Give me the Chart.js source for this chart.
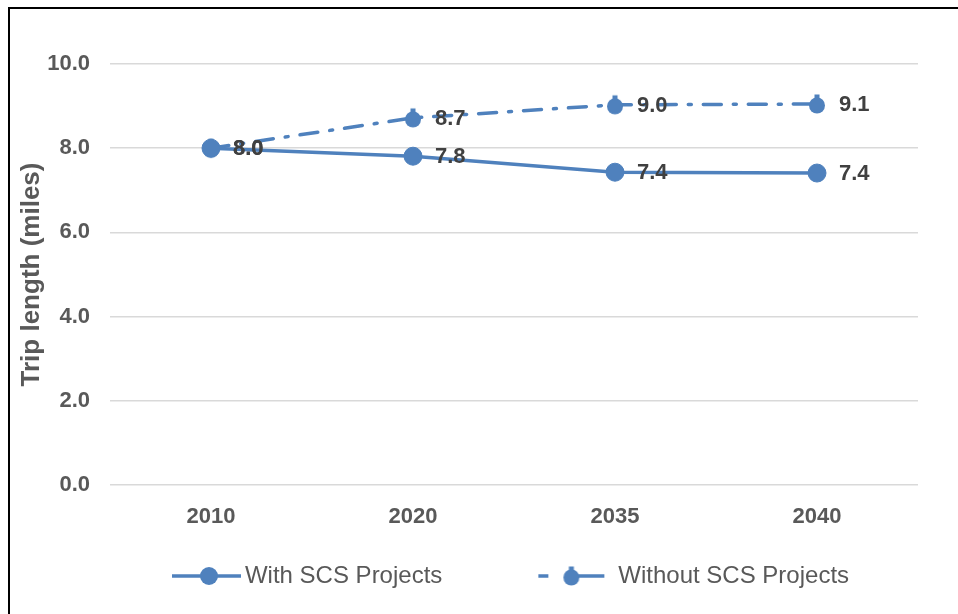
<!DOCTYPE html>
<html>
<head>
<meta charset="utf-8">
<script src="https://cdn.jsdelivr.net/npm/chart.js@4/dist/chart.umd.min.js"></script>
<style>
  html, body { margin: 0; padding: 0; background: #fff; overflow: hidden; }
  #wrap { position: relative; width: 958px; height: 614px; }
  #frame { position: absolute; left: 8px; top: 7px; right: -10px; bottom: -10px;
           border-left: 2px solid #000; border-top: 2px solid #000; pointer-events: none; }
</style>
</head>
<body>
<div id="wrap">
  <canvas id="chart" width="958" height="614"></canvas>
  <div id="frame"></div>
</div>
<script>
// chart data
const years = ['2010', '2020', '2035', '2040'];
const withScs = [8.0, 7.81, 7.43, 7.41];
const withoutScs = [8.0, 8.72, 9.03, 9.05];
const seriesNames = ['With SCS Projects', 'Without SCS Projects'];
const yTicks = [0, 2, 4, 6, 8, 10];

const blue = '#4F81BD';
const gray = '#595959';
const font = '"Liberation Sans", Arial, sans-serif';

// marker for the "without" series: dot with a small nub on top
const makeNubMarker = () => {
    const c = document.createElement('canvas');
    c.width = 18;
    c.height = 22;
    const g = c.getContext('2d');
    g.fillStyle = blue;
    g.beginPath(); g.arc(9, 12.5, 8, 0, Math.PI * 2); g.fill();
    g.fillRect(6.5, 1.5, 5, 5);
    return c;
};
const nubMarker = makeNubMarker();

// legend sample: blank space on the left, then line + marker
const makeLegendSample = (dashed) => {
    const c = document.createElement('canvas');
    c.width = 184;
    c.height = 24;
    const g = c.getContext('2d');
    g.strokeStyle = blue;
    g.fillStyle = blue;
    g.lineWidth = 3.5;
    if (dashed) {
        g.beginPath(); g.moveTo(106, 12); g.lineTo(116, 12); g.stroke();
        g.beginPath(); g.moveTo(146, 12); g.lineTo(172, 12); g.stroke();
        g.drawImage(nubMarker, 130, 1);
    } else {
        g.beginPath(); g.moveTo(113, 12); g.lineTo(182, 12); g.stroke();
        g.beginPath(); g.arc(150, 12, 9, 0, Math.PI * 2); g.fill();
    }
    return c;
};
const legendSamples = [makeLegendSample(false), makeLegendSample(true)];

const dataLabels = {
    id: 'dataLabels',
    afterDatasetsDraw(chart) {
        const ctx = chart.ctx;
        ctx.save();
        ctx.font = 'bold 22px ' + font;
        ctx.fillStyle = '#404040';
        ctx.textAlign = 'left';
        ctx.textBaseline = 'middle';
        chart.data.datasets.forEach((ds, i) => {
            chart.getDatasetMeta(i).data.forEach((pt, j) => {
                ctx.fillText(ds.data[j].toFixed(1), pt.x + 22, pt.y + 1);
            });
        });
        ctx.restore();
    }
};

new Chart(document.getElementById('chart').getContext('2d'), {
    type: 'line',
    data: {
        labels: years,
        datasets: [{
            label: seriesNames[0],
            data: withScs,
            borderColor: blue,
            backgroundColor: blue,
            borderWidth: 3.5,
            pointRadius: 9,
            pointBorderWidth: 1,
            pointBackgroundColor: blue,
            tension: 0
        }, {
            label: seriesNames[1],
            data: withoutScs,
            borderColor: blue,
            backgroundColor: blue,
            borderWidth: 3.5,
            borderDash: [18, 12, 3, 12],
            borderCapStyle: 'round',
            pointStyle: nubMarker,
            pointRadius: 8,
            tension: 0
        }]
    },
    options: {
        responsive: false,
        animation: false,
        layout: { padding: { left: 0, right: 40, top: 64, bottom: 16 } },
        plugins: {
            tooltip: { enabled: false },
            legend: {
                position: 'bottom',
                labels: {
                    usePointStyle: true,
                    pointStyleWidth: 164,
                    padding: 0,
                    color: gray,
                    font: { family: font, size: 24 },
                    generateLabels: (chart) => {
                        const items = Chart.defaults.plugins.legend.labels.generateLabels(chart);
                        items.forEach((item, i) => { item.pointStyle = legendSamples[i]; });
                        return items;
                    }
                }
            }
        },
        scales: {
            x: {
                offset: true,
                grid: { display: false, drawTicks: false },
                border: { display: false },
                ticks: {
                    padding: 19,
                    color: gray,
                    font: { family: font, size: 22, weight: 'bold' }
                },
                afterFit: (scale) => { scale.height = 79; }
            },
            y: {
                min: 0,
                max: 10,
                afterBuildTicks: (scale) => { scale.ticks = yTicks.map(v => ({ value: v })); },
                grid: { color: '#D9D9D9', lineWidth: 1.5, drawTicks: false },
                border: { display: false },
                ticks: {
                    padding: 20,
                    color: gray,
                    font: { family: font, size: 22, weight: 'bold' },
                    callback: (v) => Number(v).toFixed(1)
                },
                title: {
                    display: true,
                    text: 'Trip length (miles)',
                    color: gray,
                    padding: { top: 16, bottom: 0 },
                    font: { family: font, size: 26, weight: 'bold' }
                },
                afterFit: (scale) => { scale.width = 110; }
            }
        }
    },
    plugins: [dataLabels]
});
</script>
</body>
</html>
